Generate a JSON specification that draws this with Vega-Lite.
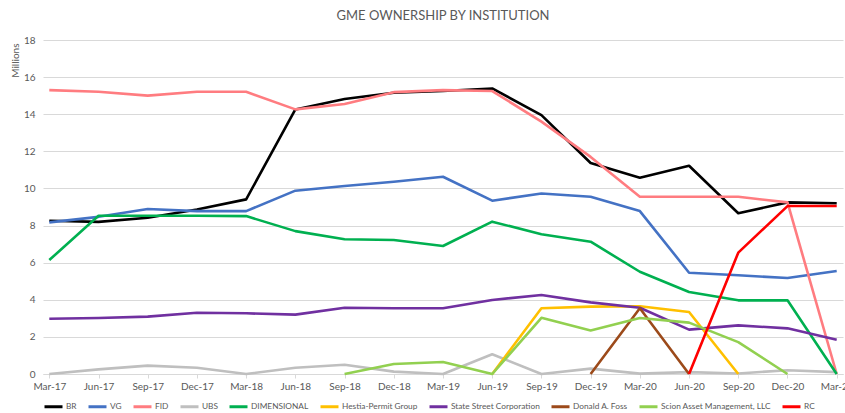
{
  "$schema": "https://vega.github.io/schema/vega-lite/v6.json",
  "width": 800,
  "height": 334,
  "autosize": {"type": "none"},
  "padding": {"left": 43, "top": 40, "right": 2, "bottom": 39},
  "title": {"text": "GME OWNERSHIP BY INSTITUTION", "font": "Lato", "fontSize": 13, "fontWeight": "normal", "color": "#595959", "anchor": "middle", "offset": 12},
  "config": {"view": {"stroke": null}, "font": "Lato"},
  "data": {"values": [
    {"d":"Mar-17","s":"BR","v":8.26},{"d":"Jun-17","s":"BR","v":8.2},{"d":"Sep-17","s":"BR","v":8.42},{"d":"Dec-17","s":"BR","v":8.87},{"d":"Mar-18","s":"BR","v":9.41},{"d":"Jun-18","s":"BR","v":14.26},{"d":"Sep-18","s":"BR","v":14.82},{"d":"Dec-18","s":"BR","v":15.16},{"d":"Mar-19","s":"BR","v":15.25},{"d":"Jun-19","s":"BR","v":15.39},{"d":"Sep-19","s":"BR","v":13.95},{"d":"Dec-19","s":"BR","v":11.37},{"d":"Mar-20","s":"BR","v":10.58},{"d":"Jun-20","s":"BR","v":11.22},{"d":"Sep-20","s":"BR","v":8.66},{"d":"Dec-20","s":"BR","v":9.25},{"d":"Mar-21","s":"BR","v":9.2},
    {"d":"Mar-17","s":"VG","v":8.17},{"d":"Jun-17","s":"VG","v":8.47},{"d":"Sep-17","s":"VG","v":8.89},{"d":"Dec-17","s":"VG","v":8.78},{"d":"Mar-18","s":"VG","v":8.78},{"d":"Jun-18","s":"VG","v":9.88},{"d":"Sep-18","s":"VG","v":10.13},{"d":"Dec-18","s":"VG","v":10.36},{"d":"Mar-19","s":"VG","v":10.63},{"d":"Jun-19","s":"VG","v":9.34},{"d":"Sep-19","s":"VG","v":9.73},{"d":"Dec-19","s":"VG","v":9.55},{"d":"Mar-20","s":"VG","v":8.78},{"d":"Jun-20","s":"VG","v":5.46},{"d":"Sep-20","s":"VG","v":5.32},{"d":"Dec-20","s":"VG","v":5.17},{"d":"Mar-21","s":"VG","v":5.55},
    {"d":"Mar-17","s":"FID","v":15.3},{"d":"Jun-17","s":"FID","v":15.21},{"d":"Sep-17","s":"FID","v":15.0},{"d":"Dec-17","s":"FID","v":15.21},{"d":"Mar-18","s":"FID","v":15.21},{"d":"Jun-18","s":"FID","v":14.26},{"d":"Sep-18","s":"FID","v":14.55},{"d":"Dec-18","s":"FID","v":15.19},{"d":"Mar-19","s":"FID","v":15.3},{"d":"Jun-19","s":"FID","v":15.25},{"d":"Sep-19","s":"FID","v":13.6},{"d":"Dec-19","s":"FID","v":11.7},{"d":"Mar-20","s":"FID","v":9.55},{"d":"Jun-20","s":"FID","v":9.55},{"d":"Sep-20","s":"FID","v":9.55},{"d":"Dec-20","s":"FID","v":9.25},{"d":"Mar-21","s":"FID","v":0},
    {"d":"Mar-17","s":"UBS","v":0},{"d":"Jun-17","s":"UBS","v":0.25},{"d":"Sep-17","s":"UBS","v":0.45},{"d":"Dec-17","s":"UBS","v":0.34},{"d":"Mar-18","s":"UBS","v":0},{"d":"Jun-18","s":"UBS","v":0.34},{"d":"Sep-18","s":"UBS","v":0.5},{"d":"Dec-18","s":"UBS","v":0.13},{"d":"Mar-19","s":"UBS","v":0},{"d":"Jun-19","s":"UBS","v":1.06},{"d":"Sep-19","s":"UBS","v":0},{"d":"Dec-19","s":"UBS","v":0.29},{"d":"Mar-20","s":"UBS","v":0.02},{"d":"Jun-20","s":"UBS","v":0.1},{"d":"Sep-20","s":"UBS","v":0.03},{"d":"Dec-20","s":"UBS","v":0.2},{"d":"Mar-21","s":"UBS","v":0.1},
    {"d":"Mar-17","s":"DIMENSIONAL","v":6.14},{"d":"Jun-17","s":"DIMENSIONAL","v":8.53},{"d":"Sep-17","s":"DIMENSIONAL","v":8.53},{"d":"Dec-17","s":"DIMENSIONAL","v":8.53},{"d":"Mar-18","s":"DIMENSIONAL","v":8.51},{"d":"Jun-18","s":"DIMENSIONAL","v":7.7},{"d":"Sep-18","s":"DIMENSIONAL","v":7.26},{"d":"Dec-18","s":"DIMENSIONAL","v":7.22},{"d":"Mar-19","s":"DIMENSIONAL","v":6.9},{"d":"Jun-19","s":"DIMENSIONAL","v":8.21},{"d":"Sep-19","s":"DIMENSIONAL","v":7.53},{"d":"Dec-19","s":"DIMENSIONAL","v":7.13},{"d":"Mar-20","s":"DIMENSIONAL","v":5.51},{"d":"Jun-20","s":"DIMENSIONAL","v":4.42},{"d":"Sep-20","s":"DIMENSIONAL","v":3.97},{"d":"Dec-20","s":"DIMENSIONAL","v":3.97},{"d":"Mar-21","s":"DIMENSIONAL","v":0},
    {"d":"Jun-19","s":"Hestia-Permit Group","v":0},{"d":"Sep-19","s":"Hestia-Permit Group","v":3.54},{"d":"Dec-19","s":"Hestia-Permit Group","v":3.63},{"d":"Mar-20","s":"Hestia-Permit Group","v":3.65},{"d":"Jun-20","s":"Hestia-Permit Group","v":3.34},{"d":"Sep-20","s":"Hestia-Permit Group","v":0},
    {"d":"Mar-17","s":"State Street Corporation","v":2.98},{"d":"Jun-17","s":"State Street Corporation","v":3.02},{"d":"Sep-17","s":"State Street Corporation","v":3.09},{"d":"Dec-17","s":"State Street Corporation","v":3.3},{"d":"Mar-18","s":"State Street Corporation","v":3.27},{"d":"Jun-18","s":"State Street Corporation","v":3.2},{"d":"Sep-18","s":"State Street Corporation","v":3.57},{"d":"Dec-18","s":"State Street Corporation","v":3.54},{"d":"Mar-19","s":"State Street Corporation","v":3.54},{"d":"Jun-19","s":"State Street Corporation","v":3.99},{"d":"Sep-19","s":"State Street Corporation","v":4.26},{"d":"Dec-19","s":"State Street Corporation","v":3.86},{"d":"Mar-20","s":"State Street Corporation","v":3.57},{"d":"Jun-20","s":"State Street Corporation","v":2.39},{"d":"Sep-20","s":"State Street Corporation","v":2.62},{"d":"Dec-20","s":"State Street Corporation","v":2.46},{"d":"Mar-21","s":"State Street Corporation","v":1.85},
    {"d":"Dec-19","s":"Donald A. Foss","v":0},{"d":"Mar-20","s":"Donald A. Foss","v":3.54},{"d":"Jun-20","s":"Donald A. Foss","v":0},
    {"d":"Sep-18","s":"Scion Asset Management, LLC","v":0},{"d":"Dec-18","s":"Scion Asset Management, LLC","v":0.54},{"d":"Mar-19","s":"Scion Asset Management, LLC","v":0.65},{"d":"Jun-19","s":"Scion Asset Management, LLC","v":0},{"d":"Sep-19","s":"Scion Asset Management, LLC","v":3.03},{"d":"Dec-19","s":"Scion Asset Management, LLC","v":2.35},{"d":"Mar-20","s":"Scion Asset Management, LLC","v":3.02},{"d":"Jun-20","s":"Scion Asset Management, LLC","v":2.77},{"d":"Sep-20","s":"Scion Asset Management, LLC","v":1.72},{"d":"Dec-20","s":"Scion Asset Management, LLC","v":0},
    {"d":"Jun-20","s":"RC","v":0},{"d":"Sep-20","s":"RC","v":6.54},{"d":"Dec-20","s":"RC","v":9.05},{"d":"Mar-21","s":"RC","v":9.05}
  ]},
  "mark": {"type": "line", "strokeWidth": 2.6, "strokeJoin": "round", "strokeCap": "butt"},
  "encoding": {
    "x": {"field": "d", "type": "ordinal", "sort": ["Mar-17","Jun-17","Sep-17","Dec-17","Mar-18","Jun-18","Sep-18","Dec-18","Mar-19","Jun-19","Sep-19","Dec-19","Mar-20","Jun-20","Sep-20","Dec-20","Mar-21"],
      "scale": {"type": "point", "padding": 0.128},
      "axis": {"title": null, "labelAngle": 0, "labelFont": "Lato", "labelFontSize": 10, "labelColor": "#595959", "labelPadding": 3, "domainColor": "#D9D9D9", "tickColor": "#D9D9D9", "tickSize": 4, "grid": false}},
    "y": {"field": "v", "type": "quantitative", "scale": {"domain": [0, 18]},
      "axis": {"title": "Millions", "titleFont": "Lato", "titleFontSize": 10, "titleFontWeight": "normal", "titleColor": "#595959", "titleAnchor": "end", "titleAlign": "right", "titleBaseline": "middle", "titleX": -28, "titleY": 3, "titleAngle": -90,
        "values": [0,2,4,6,8,10,12,14,16,18], "labelFont": "Lato", "labelFontSize": 10, "labelColor": "#595959", "labelPadding": 8, "ticks": false, "domain": false, "gridColor": "#D9D9D9", "gridWidth": 1}},
    "color": {"field": "s", "type": "nominal", "sort": null,
      "scale": {"domain": ["BR","VG","FID","UBS","DIMENSIONAL","Hestia-Permit Group","State Street Corporation","Donald A. Foss","Scion Asset Management, LLC","RC"],
        "range": ["#000000","#4472C4","#FF7C80","#BFBFBF","#00B050","#FFC000","#7030A0","#9C4A1A","#92D050","#FF0000"]},
      "legend": {"title": null, "orient": "bottom", "direction": "horizontal", "symbolType": "stroke", "symbolSize": 324, "symbolStrokeWidth": 3, "labelFont": "Lato", "labelFontSize": 8.3, "labelColor": "#595959", "labelOffset": 2, "columnPadding": 5, "offset": 5, "padding": 0}}
  }
}
